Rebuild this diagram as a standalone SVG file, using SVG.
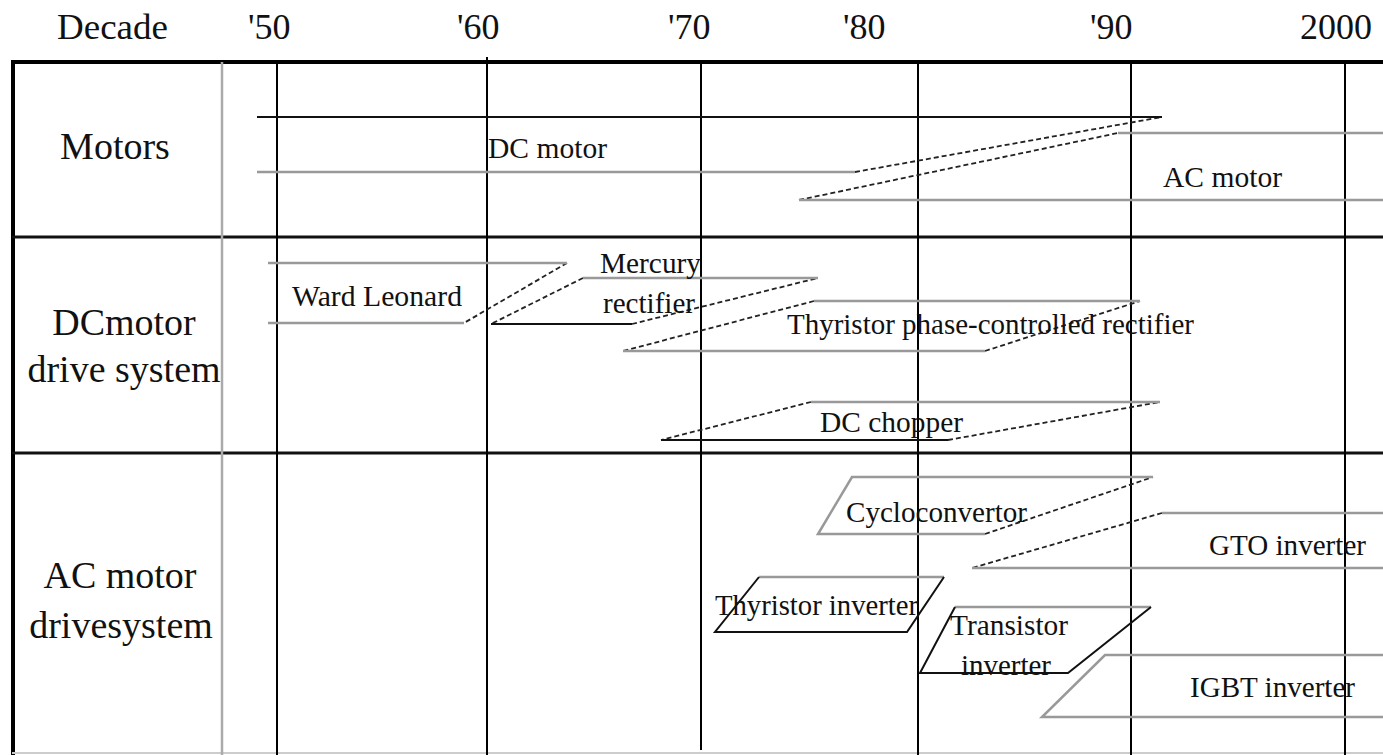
<svg xmlns="http://www.w3.org/2000/svg" width="1383" height="755" viewBox="0 0 1383 755">
<style>
text{font-family:"Liberation Serif","Times New Roman",serif;fill:#111}
.hd{font-size:36px}
.rl{font-size:38px;text-anchor:middle}
.lb{font-size:30px}
.blk{stroke:#111;stroke-width:2;fill:none}
.gry{stroke:#999;stroke-width:2.5;fill:none}
.dsh{stroke:#222;stroke-width:1.8;stroke-dasharray:5 3;fill:none}
.grid{stroke:#000;stroke-width:2;fill:none}
</style>
<rect width="1383" height="755" fill="#fff"/>
<g id="grid">
<line x1="12" y1="62" x2="1383" y2="62" stroke="#000" stroke-width="4"/>
<line x1="13" y1="60" x2="13" y2="755" stroke="#000" stroke-width="4"/>
<line x1="12" y1="237" x2="1383" y2="237" stroke="#111" stroke-width="3"/>
<line x1="12" y1="453" x2="1383" y2="453" stroke="#111" stroke-width="3"/>
<line x1="12" y1="753" x2="1383" y2="753" stroke="#ccc" stroke-width="2"/>
<line x1="222" y1="62" x2="222" y2="755" stroke="#aaa" stroke-width="2.5"/>
<line class="grid" x1="277" y1="62" x2="277" y2="755"/>
<line class="grid" x1="487" y1="57" x2="487" y2="755"/>
<line class="grid" x1="701" y1="62" x2="701" y2="750"/>
<line class="grid" x1="918" y1="62" x2="918" y2="755"/>
<line class="grid" x1="1131" y1="62" x2="1131" y2="755"/>
<line class="grid" x1="1345" y1="62" x2="1345" y2="755"/>
</g>
<g id="header">
<text class="hd" x="57" y="39" textLength="111" lengthAdjust="spacingAndGlyphs">Decade</text>
<text class="hd" x="248" y="39">'50</text>
<text class="hd" x="457" y="39">'60</text>
<text class="hd" x="668" y="39">'70</text>
<text class="hd" x="843" y="39">'80</text>
<text class="hd" x="1090" y="39">'90</text>
<text class="hd" x="1300" y="39">2000</text>
</g>
<g id="row-motors"><text class="rl" x="115" y="159">Motors</text></g>
<g id="row-dc"><text class="rl" x="124" y="335">DCmotor</text><text class="rl" x="124" y="382">drive system</text></g>
<g id="row-ac"><text class="rl" x="120" y="588">AC motor</text><text class="rl" x="121" y="638">drivesystem</text></g>
<g id="connectors">
<line class="dsh" x1="855" y1="172" x2="1162" y2="117"/>
<line class="dsh" x1="799" y1="200" x2="1118" y2="133"/>
<line class="dsh" x1="567" y1="263" x2="464" y2="323"/>
<line class="dsh" x1="583" y1="278" x2="491" y2="324"/>
<line class="dsh" x1="632" y1="324" x2="818" y2="278"/>
<line class="dsh" x1="814" y1="301" x2="623" y2="351"/>
<line class="dsh" x1="985" y1="351" x2="1140" y2="301"/>
<line class="dsh" x1="811" y1="402" x2="661" y2="440"/>
<line class="dsh" x1="948" y1="440" x2="1160" y2="402"/>
<line class="dsh" x1="985" y1="534" x2="1153" y2="477"/>
<line class="dsh" x1="1162" y1="513" x2="972" y2="568"/>
</g>
<g id="dc-motor">
<line class="blk" x1="257" y1="117" x2="1162" y2="117"/>
<line class="gry" x1="257" y1="172" x2="855" y2="172"/>
<text class="lb" x="488" y="158" textLength="119" lengthAdjust="spacingAndGlyphs">DC motor</text>
</g>
<g id="ac-motor">
<line class="gry" x1="1118" y1="133" x2="1383" y2="133"/>
<line class="gry" x1="799" y1="200" x2="1383" y2="200"/>
<text class="lb" x="1163" y="187" textLength="119" lengthAdjust="spacingAndGlyphs">AC motor</text>
</g>
<g id="ward-leonard">
<line class="gry" x1="268" y1="263" x2="567" y2="263"/>
<line class="gry" x1="268" y1="323" x2="464" y2="323"/>
<text class="lb" x="292" y="306" textLength="170" lengthAdjust="spacingAndGlyphs">Ward Leonard</text>
</g>
<g id="mercury-rectifier">
<line class="gry" x1="583" y1="278" x2="818" y2="278"/>
<line class="blk" x1="491" y1="324" x2="632" y2="324"/>
<text class="lb" x="600" y="273" textLength="101" lengthAdjust="spacingAndGlyphs">Mercury</text>
<text class="lb" x="603" y="313" textLength="92" lengthAdjust="spacingAndGlyphs">rectifier</text>
</g>
<g id="thyristor-rectifier">
<line class="gry" x1="814" y1="301" x2="1140" y2="301"/>
<line class="gry" x1="623" y1="351" x2="985" y2="351"/>
<text class="lb" x="787" y="334" textLength="407" lengthAdjust="spacingAndGlyphs">Thyristor phase-controlled rectifier</text>
</g>
<g id="dc-chopper">
<line class="gry" x1="811" y1="402" x2="1160" y2="402"/>
<line class="blk" x1="661" y1="440" x2="948" y2="440"/>
<text class="lb" x="820" y="432" textLength="143" lengthAdjust="spacingAndGlyphs">DC chopper</text>
</g>
<g id="cycloconvertor">
<polyline class="gry" points="1153,477 852,477 818,534 985,534"/>
<text class="lb" x="846" y="522" textLength="181" lengthAdjust="spacingAndGlyphs">Cycloconvertor</text>
</g>
<g id="gto-inverter">
<line class="gry" x1="1162" y1="513" x2="1383" y2="513"/>
<line class="gry" x1="972" y1="568" x2="1383" y2="568"/>
<text class="lb" x="1209" y="555" textLength="157" lengthAdjust="spacingAndGlyphs">GTO inverter</text>
</g>
<g id="thyristor-inverter">
<line class="gry" x1="759" y1="577" x2="944" y2="577"/>
<polyline class="blk" points="759,577 715,632 907,632 944,577"/>
<text class="lb" x="715" y="615" textLength="203" lengthAdjust="spacingAndGlyphs">Thyristor inverter</text>
</g>
<g id="transistor-inverter">
<line class="gry" x1="955" y1="607" x2="1151" y2="607"/>
<polyline class="blk" points="955,607 920,673 1068,673 1151,607"/>
<text class="lb" x="950" y="635" textLength="118" lengthAdjust="spacingAndGlyphs">Transistor</text>
<text class="lb" x="961" y="675" textLength="90" lengthAdjust="spacingAndGlyphs">inverter</text>
</g>
<g id="igbt-inverter">
<polyline class="gry" points="1383,655 1105,655 1042,717 1383,717"/>
<text class="lb" x="1190" y="697" textLength="165" lengthAdjust="spacingAndGlyphs">IGBT inverter</text>
</g>
</svg>
